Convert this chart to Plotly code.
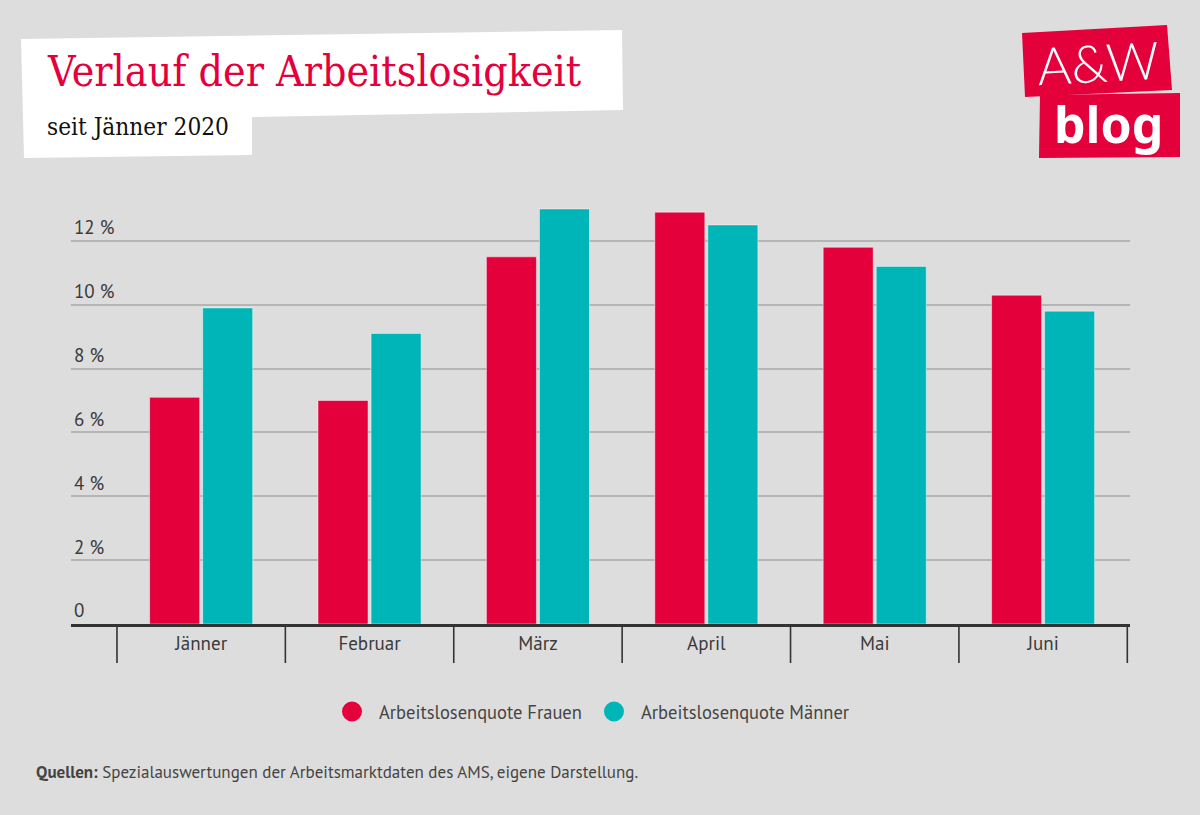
import plotly.graph_objects as go

# ---------------- data ----------------
months = ["Jänner", "Februar", "März", "April", "Mai", "Juni"]
frauen = [7.1, 7.0, 11.5, 12.9, 11.8, 10.3]
maenner = [9.9, 9.1, 13.0, 12.5, 11.2, 9.8]
series_names = ["Arbeitslosenquote Frauen", "Arbeitslosenquote Männer"]
tick_vals = [0, 2, 4, 6, 8, 10, 12]
tick_text = ["0", "2 %", "4 %", "6 %", "8 %", "10 %", "12 %"]

# ---------------- style ----------------
W, H = 1200, 815
ML, MR, MT, MB = 71, 70, 193, 191
PW, PH = W - ML - MR, H - MT - MB
RED = "#e4003a"
TEAL = "#00b5b7"
BG = "#dddddd"
TXT = "#3a3a3a"
SANS = "PT Sans, Lato, Noto Sans, sans-serif"
SERIF = "Roboto Slab, DejaVu Serif Condensed, Liberation Serif, serif"


def xp(px):
    return (px - ML) / PW


def yp(py):
    return (H - MB - py) / PH


def poly(points):
    return "M " + " L ".join(f"{xp(x):.5f},{yp(y):.5f}" for x, y in points) + " Z"


fig = go.Figure()
for name, vals, col in [(series_names[0], frauen, RED), (series_names[1], maenner, TEAL)]:
    fig.add_trace(go.Bar(
        x=months, y=vals, name=name, marker_color=col,
        marker_line=dict(color="rgba(255,255,255,0.45)", width=1),
        showlegend=False,
    ))
    fig.add_trace(go.Scatter(
        x=[None], y=[None], mode="markers", name=name,
        marker=dict(color=col, size=22, symbol="circle",
                    line=dict(color=col, width=4)),
    ))

shapes = []
# category divider ticks below the axis
for i in range(len(months) + 1):
    shapes.append(dict(type="line", xref="x", yref="y domain",
                       x0=i - 0.5, x1=i - 0.5, y0=0, y1=-39 / PH,
                       line=dict(color="#333333", width=1.6)))
# title backgrounds (paper coordinates derived from pixel layout)
shapes.append(dict(type="path", xref="paper", yref="paper", layer="below",
                   path=poly([(21, 39), (622, 30), (623, 110), (252, 117),
                              (252, 155), (24, 158)]),
                   fillcolor="white", line=dict(width=0)))
# logo boxes
shapes.append(dict(type="path", xref="paper", yref="paper",
                   path=poly([(1022, 33), (1167, 25), (1172, 90), (1025, 97)]),
                   fillcolor=RED, line=dict(width=0)))
shapes.append(dict(type="path", xref="paper", yref="paper",
                   path=poly([(1040, 95), (1180, 93), (1180, 157), (1039, 158)]),
                   fillcolor=RED, line=dict(width=0)))

annotations = [
    dict(text="Verlauf der Arbeitslosigkeit", xref="paper", yref="paper",
         x=xp(45), y=yp(98), xanchor="left", yanchor="bottom", showarrow=False,
         font=dict(family=SERIF, size=42.5, color=RED)),
    dict(text="seit Jänner 2020", xref="paper", yref="paper",
         x=xp(45), y=yp(143), xanchor="left", yanchor="bottom", showarrow=False,
         font=dict(family=SERIF, size=24.2, color="#111111")),
    dict(text="A&amp;W", xref="paper", yref="paper",
         x=xp(1098), y=yp(62), xanchor="center", yanchor="middle", showarrow=False,
         textangle=-3, font=dict(family="Lato, Noto Sans, sans-serif", size=52,
                                 color="white", weight=300)),
    dict(text="<b>blog</b>", xref="paper", yref="paper",
         x=xp(1108), y=yp(124), xanchor="center", yanchor="middle", showarrow=False,
         font=dict(family="Noto Sans, Lato, sans-serif", size=50, color="white")),
    dict(text="<b>Quellen:</b> Spezialauswertungen der Arbeitsmarktdaten des AMS, eigene Darstellung.",
         xref="paper", yref="paper", x=xp(34), y=yp(772), xanchor="left", yanchor="middle",
         showarrow=False, font=dict(family=SANS, size=17, color="#444444")),
]

fig.update_layout(
    width=W, height=H,
    margin=dict(l=ML, r=MR, t=MT, b=MB, pad=0),
    paper_bgcolor=BG, plot_bgcolor=BG,
    barmode="group", bargap=0.37, bargroupgap=0.057,
    font=dict(family=SANS, size=17, color=TXT),
    showlegend=True,
    legend=dict(orientation="h", x=xp(325), xanchor="left", y=yp(712), yanchor="middle",
                font=dict(family=SANS, size=18.5, color="#444444"),
                itemsizing="trace", itemwidth=44, entrywidth=203,
                bgcolor="rgba(0,0,0,0)"),
    shapes=shapes, annotations=annotations,
)
fig.update_xaxes(
    type="category", range=[-0.773, 5.516], showgrid=False, zeroline=False,
    showline=True, linecolor="#333333", linewidth=3, ticks="",
    tickfont=dict(family=SANS, size=19, color=TXT),
    ticklabelstandoff=0,
)
fig.update_yaxes(
    range=[0, 13.5], tickvals=tick_vals, ticktext=tick_text,
    showgrid=True, gridcolor="#b5b5b5", gridwidth=1.5, zeroline=False,
    ticks="", ticklabelposition="inside top",
    tickfont=dict(family=SANS, size=19, color=TXT),
)

fig.write_html("out.html", config={"displayModeBar": False},
               post_script="document.body.style.margin='0';")
